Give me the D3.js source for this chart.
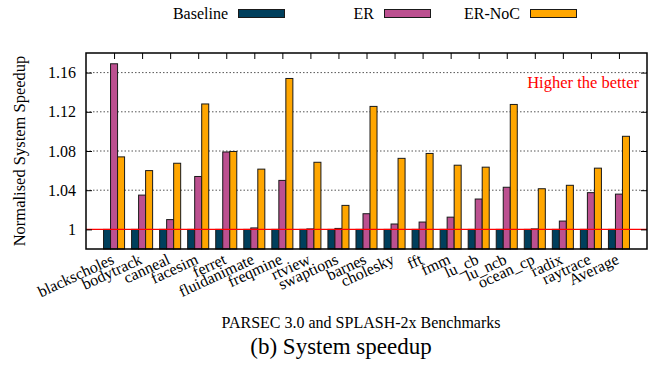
<!DOCTYPE html>
<html>
<head>
<meta charset="utf-8">
<script src="https://cdn.jsdelivr.net/npm/d3@7"></script>
<style>
  body { margin: 0; background: #fff; }
</style>
</head>
<body>
<div id="chart"></div>
<script>
const categories = ["blackscholes", "bodytrack", "canneal", "facesim", "ferret", "fluidanimate",
    "freqmine", "rtview", "swaptions", "barnes", "cholesky", "fft", "fmm", "lu_cb", "lu_ncb",
    "ocean_cp", "radix", "raytrace", "Average"];
const seriesNames = ["Baseline", "ER", "ER-NoC"];
const baseline = categories.map(() => 1.0);
const er = [1.169, 1.035, 1.010, 1.054, 1.079, 1.0015, 1.050, 1.0005, 1.001, 1.016,
    1.0055, 1.0075, 1.0125, 1.031, 1.043, 1.0005, 1.0085, 1.0375, 1.036];
const erNoc = [1.074, 1.060, 1.0675, 1.128, 1.0795, 1.0615, 1.154, 1.0685, 1.0245, 1.1255,
    1.0725, 1.0775, 1.0655, 1.0635, 1.1275, 1.0415, 1.045, 1.0625, 1.095];
const yTicks = [1, 1.04, 1.08, 1.12, 1.16];
const colors = ["#003f5c", "#bc5090", "#ffa600"];

const FONT = "'Liberation Serif', 'Times New Roman', serif";
const width = 656, height = 377;
const margin = { left: 86, right: 9, top: 53, bottom: 128 };
const plotW = width - margin.left - margin.right;
const plotH = height - margin.top - margin.bottom;

const svg = d3.select("#chart").append("svg")
    .attr("width", width).attr("height", height)
    .attr("font-family", FONT);

const x = d3.scaleLinear().domain([-1, categories.length]).range([margin.left, margin.left + plotW]);
const y = d3.scaleLinear().domain([0.98, 1.18]).range([margin.top + plotH, margin.top]);
const barW = 0.25;

// grid lines
svg.append("g").selectAll("line")
    .data(yTicks.filter(t => t !== 1))
    .enter().append("line")
    .attr("x1", margin.left).attr("x2", margin.left + plotW)
    .attr("y1", d => y(d)).attr("y2", d => y(d))
    .attr("stroke", "#555").attr("stroke-width", 1)
    .attr("stroke-dasharray", "1.5,2");

// bars
const series = [baseline, er, erNoc];
series.forEach((vals, si) => {
    svg.append("g").selectAll("rect")
        .data(vals)
        .enter().append("rect")
        .attr("x", (d, i) => x(i + (si - 1) * barW - barW / 2))
        .attr("width", x(barW) - x(0))
        .attr("y", d => y(d))
        .attr("height", d => y(0.98) - y(d))
        .attr("fill", colors[si])
        .attr("stroke", "#1a1a1a")
        .attr("stroke-width", 1);
});

// red reference line
svg.append("line")
    .attr("x1", margin.left).attr("x2", margin.left + plotW)
    .attr("y1", y(1)).attr("y2", y(1))
    .attr("stroke", "#ff0000").attr("stroke-width", 1.2);

// axes
const yAxis = d3.axisLeft(y).tickValues(yTicks).tickSize(6).tickFormat(d => d === 1 ? "1" : d3.format(".2f")(d));
const gy = svg.append("g").attr("transform", `translate(${margin.left},0)`).call(yAxis);
gy.attr("font-family", FONT).attr("font-size", 16);
gy.selectAll("text").attr("fill", "#000").attr("x", -10);
gy.select(".domain").remove();
gy.selectAll(".tick line").attr("x2", 6).attr("stroke", "#000");

const gyR = svg.append("g").attr("transform", `translate(${margin.left + plotW},0)`)
    .call(d3.axisRight(y).tickValues(yTicks).tickSize(0).tickFormat(""));
gyR.select(".domain").remove();
gyR.selectAll(".tick line").attr("x2", -6).attr("stroke", "#000");

const xIdx = d3.range(categories.length);
const gxTop = svg.append("g").attr("transform", `translate(0,${margin.top})`)
    .call(d3.axisTop(x).tickValues(xIdx).tickSize(0).tickFormat(""));
gxTop.select(".domain").remove();
gxTop.selectAll(".tick line").attr("y2", 6).attr("stroke", "#000");

// x labels rotated
svg.append("g").selectAll("text")
    .data(categories)
    .enter().append("text")
    .attr("transform", (d, i) => `translate(${x(i) + 1},${margin.top + plotH + 14}) rotate(-25)`)
    .attr("text-anchor", "end")
    .attr("font-size", 16)
    .attr("fill", "#000")
    .text(d => d);

// frame
svg.append("rect")
    .attr("x", margin.left).attr("y", margin.top)
    .attr("width", plotW).attr("height", plotH)
    .attr("fill", "none").attr("stroke", "#000").attr("stroke-width", 1.5);

// annotation
svg.append("text")
    .attr("x", 639).attr("y", 88)
    .attr("text-anchor", "end").attr("font-size", 16.5).attr("fill", "#ff0000")
    .text("Higher the better");

// y title
svg.append("text")
    .attr("transform", `translate(25,${margin.top + plotH / 2}) rotate(-90)`)
    .attr("text-anchor", "middle").attr("font-size", 16.5).attr("fill", "#000")
    .text("Normalised System Speedup");

// x title and caption
svg.append("text")
    .attr("x", 361).attr("y", 328)
    .attr("text-anchor", "middle").attr("font-size", 16).attr("fill", "#000")
    .text("PARSEC 3.0 and SPLASH-2x Benchmarks");
svg.append("text")
    .attr("x", 341).attr("y", 354)
    .attr("text-anchor", "middle").attr("font-size", 23).attr("fill", "#000")
    .text("(b) System speedup");

// legend
const legendX = [228, 374, 520];
const lg = svg.append("g").selectAll("g")
    .data(seriesNames)
    .enter().append("g");
lg.append("text")
    .attr("x", (d, i) => legendX[i]).attr("y", 18.5)
    .attr("text-anchor", "end").attr("font-size", 16).attr("fill", "#000")
    .text(d => d);
lg.append("rect")
    .attr("x", (d, i) => legendX[i] + 10.5).attr("y", 9.5)
    .attr("width", 46).attr("height", 8)
    .attr("fill", (d, i) => colors[i])
    .attr("stroke", "#1a1a1a").attr("stroke-width", 1);
</script>
</body>
</html>
